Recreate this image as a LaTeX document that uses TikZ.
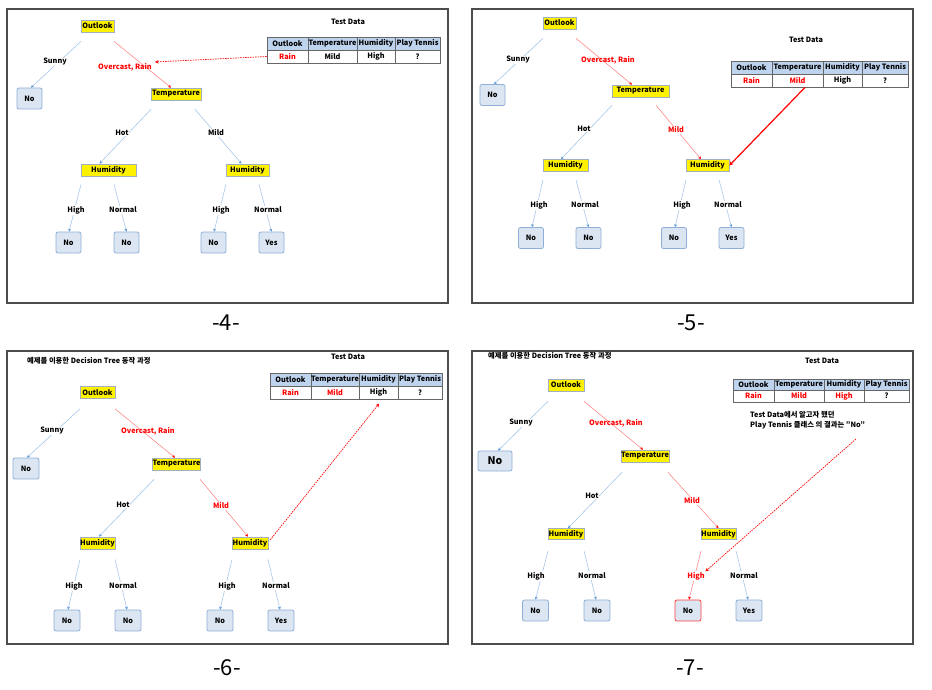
\documentclass[tikz,border=0pt]{standalone}
\usepackage{fontspec}
\setmainfont{Noto Sans CJK KR}
\usetikzlibrary{arrows.meta}
\definecolor{leaffill}{HTML}{DCE6F2}
\definecolor{leafdraw}{HTML}{8FAFD8}
\definecolor{edgeblue}{HTML}{A9C7EA}
\definecolor{tipblue}{HTML}{5B9BD5}
\definecolor{edgered}{HTML}{FF8C8C}
\definecolor{headfill}{HTML}{BDD3EE}
\definecolor{tabline}{HTML}{666666}
\definecolor{ybord}{HTML}{A0AEC0}
\begin{document}
\begin{tikzpicture}[x=1pt,y=-1pt,
  lab/.style={font=\fontsize{7.3}{9}\selectfont\bfseries},
  ynode/.style={lab,fill=yellow,draw=ybord,line width=0.7pt,inner sep=0pt,minimum height=12pt},
  leaf/.style={lab,fill=leaffill,draw=leafdraw,line width=0.8pt,rounded corners=2pt,inner sep=0pt,minimum width=25pt,minimum height=21pt},
  redleaf/.style={leaf,draw=red!75},
  lbl/.style={lab,fill=white,inner sep=0.6pt},
  rlbl/.style={lbl,text=red},
  olbl/.style={lab,inner sep=0.6pt,text=red},
  edge/.style={draw=edgeblue,line width=0.6pt,-{Stealth[length=3pt,width=3pt,color=tipblue]}},
  redge/.style={draw=edgered,line width=0.6pt,-{Stealth[length=3pt,width=3pt,color=red]}},
  rdash/.style={draw=red,line width=0.7pt,dash pattern=on 1.5pt off 1pt,-{Stealth[length=3.5pt,width=3.5pt]}},
  rsolid/.style={draw=red,line width=1.2pt,-{Stealth[length=4pt,width=4pt]}},
  hcell/.style={lab,fill=headfill,draw=tabline,line width=0.8pt,inner sep=0pt},
  dcell/.style={lab,fill=white,draw=tabline,line width=0.8pt,inner sep=0pt},
  panel/.style={draw=black!70,line width=1.1pt},
  tdl/.style={lab},
  plabel/.style={font=\fontsize{22}{24}\selectfont},
  title/.style={font=\fontsize{7.3}{8.5}\selectfont\bfseries,inner sep=0pt}
]
\useasboundingbox (0,0) rectangle (932,690);
\fill[white] (0,0) rectangle (932,690);

% ================= panel 4 =================
\draw[panel] (7,9) rectangle (448,303);
\node[plabel] (a-num) at (226,323) {-4-};
\node[tdl] (a-td) at (348,22) {Test Data};
\node[hcell,minimum width=41pt,minimum height=13pt] (a-h1) at (287.5,43.5) {Outlook};
\node[hcell,minimum width=49pt,minimum height=13pt] (a-h2) at (332.5,43.5) {Temperature};
\node[hcell,minimum width=38pt,minimum height=13pt] (a-h3) at (376,43.5) {Humidity};
\node[hcell,minimum width=45pt,minimum height=13pt] (a-h4) at (417.5,43.5) {Play Tennis};
\node[dcell,minimum width=41pt,minimum height=13pt,text=red] (a-d1) at (287.5,56.5) {Rain};
\node[dcell,minimum width=49pt,minimum height=13pt] (a-d2) at (332.5,56.5) {Mild};
\node[dcell,minimum width=38pt,minimum height=13pt] (a-d3) at (376,56.5) {High};
\node[dcell,minimum width=45pt,minimum height=13pt] (a-d4) at (417.5,56.5) {?};

\node[ynode,minimum width=33pt] (a-out) at (97.5,26) {Outlook};
\node[leaf] (a-no) at (29.5,98.5) {No};
\node[ynode,minimum width=50pt] (a-tmp) at (176,94) {Temperature};
\node[ynode,minimum width=55pt] (a-hl) at (108.5,170) {Humidity};
\node[ynode,minimum width=43pt] (a-hr) at (247.5,170) {Humidity};
\node[leaf] (a-n1) at (68.5,242.5) {No};
\node[leaf] (a-n2) at (126.5,242.5) {No};
\node[leaf] (a-n3) at (213.5,242.5) {No};
\node[leaf] (a-y) at (271.5,242.5) {Yes};

\draw[edge] ([xshift=-16.5pt,yshift=-9pt]a-out.south) -- ([xshift=1.5pt]a-no.north);
\draw[redge] ([xshift=16.5pt,yshift=-9pt]a-out.south) -- ([xshift=-5pt]a-tmp.north);
\draw[edge] ([xshift=-25pt,yshift=-9pt]a-tmp.south) -- ([xshift=-9pt]a-hl.north);
\draw[edge] ([xshift=19pt,yshift=-9pt]a-tmp.south) -- ([xshift=-6pt]a-hr.north);
\draw[edge] ([xshift=-27.5pt,yshift=-8pt]a-hl.south) -- ([xshift=0.5pt]a-n1.north);
\draw[edge] ([xshift=5.5pt,yshift=-8pt]a-hl.south) -- (a-n2.north);
\draw[edge] ([xshift=-21.5pt,yshift=-8pt]a-hr.south) -- ([xshift=0.5pt]a-n3.north);
\draw[edge] ([xshift=11.5pt,yshift=-8pt]a-hr.south) -- (a-y.north);

\node[lbl] (a-l1) at (55,62) {Sunny};
\node[olbl] (a-l2) at (125,67) {Overcast, Rain};
\node[lbl] (a-l3) at (122,133) {Hot};
\node[lbl] (a-l4) at (216,133) {Mild};
\node[lbl] (a-l5) at (76,210) {High};
\node[lbl] (a-l6) at (123,210) {Normal};
\node[lbl] (a-l7) at (221,210) {High};
\node[lbl] (a-l8) at (268,210) {Normal};

\coordinate (a-tip) at (155,62);
\draw[rdash] (a-d1.west) -- (a-tip);

% ================= panel 5 =================
\draw[panel] (472,9) rectangle (913,303);
\node[plabel] (b-num) at (691,323) {-5-};
\node[tdl] (b-td) at (806,40) {Test Data};
\node[hcell,minimum width=41pt,minimum height=13pt] (b-h1) at (751.5,67.5) {Outlook};
\node[hcell,minimum width=51pt,minimum height=13pt] (b-h2) at (797.5,67.5) {Temperature};
\node[hcell,minimum width=39pt,minimum height=13pt] (b-h3) at (842.5,67.5) {Humidity};
\node[hcell,minimum width=46pt,minimum height=13pt] (b-h4) at (885,67.5) {Play Tennis};
\node[dcell,minimum width=41pt,minimum height=13pt,text=red] (b-d1) at (751.5,80.5) {Rain};
\node[dcell,minimum width=51pt,minimum height=13pt,text=red] (b-d2) at (797.5,80.5) {Mild};
\node[dcell,minimum width=39pt,minimum height=13pt] (b-d3) at (842.5,80.5) {High};
\node[dcell,minimum width=46pt,minimum height=13pt] (b-d4) at (885,80.5) {?};

\node[ynode,minimum width=33pt] (b-out) at (559.5,23) {Outlook};
\node[leaf] (b-no) at (492.5,95) {No};
\node[ynode,minimum width=57pt] (b-tmp) at (640.5,91) {Temperature};
\node[ynode,minimum width=45pt] (b-hl) at (565.5,165.5) {Humidity};
\node[ynode,minimum width=43pt] (b-hr) at (707.5,165.5) {Humidity};
\node[leaf] (b-n1) at (531,238) {No};
\node[leaf] (b-n2) at (588.5,238) {No};
\node[leaf] (b-n3) at (674,238) {No};
\node[leaf] (b-y) at (731.5,238) {Yes};

\draw[edge] ([xshift=-16.5pt,yshift=-9pt]b-out.south) -- ([xshift=1.5pt]b-no.north);
\draw[redge] ([xshift=16.5pt,yshift=-9pt]b-out.south) -- ([xshift=-8.5pt]b-tmp.north);
\draw[edge] ([xshift=-28.5pt,yshift=-8pt]b-tmp.south) -- ([xshift=-4.5pt]b-hl.north);
\draw[redge] ([xshift=15.5pt,yshift=-8pt]b-tmp.south) -- ([xshift=-6.5pt]b-hr.north);
\draw[edge] ([xshift=-22.5pt,yshift=-8pt]b-hl.south) -- ([xshift=1pt]b-n1.north);
\draw[edge] ([xshift=10.5pt,yshift=-8pt]b-hl.south) -- (b-n2.north);
\draw[edge] ([xshift=-21.5pt,yshift=-8pt]b-hr.south) -- ([xshift=1pt]b-n3.north);
\draw[edge] ([xshift=11.5pt,yshift=-8pt]b-hr.south) -- (b-y.north);

\node[lbl] (b-l1) at (518,60) {Sunny};
\node[olbl] (b-l2) at (608,60) {Overcast, Rain};
\node[lbl] (b-l3) at (584,129) {Hot};
\node[rlbl] (b-l4) at (676,130) {Mild};
\node[lbl] (b-l5) at (539,205) {High};
\node[lbl] (b-l6) at (585,205) {Normal};
\node[lbl] (b-l7) at (682,205) {High};
\node[lbl] (b-l8) at (728,205) {Normal};

\draw[rsolid] ([xshift=7.5pt]b-d2.south) -- (b-hr.east);

% ================= panel 6 =================
\draw[panel] (7,351) rectangle (448,644);
\node[plabel] (c-num) at (227,668) {-6-};
\node[title,anchor=west] (c-title) at (27,361) {예제를 이용한 Decision Tree 동작 과정};
\node[tdl] (c-td) at (348,357) {Test Data};
\node[hcell,minimum width=41pt,minimum height=13pt] (c-h1) at (290.5,379.5) {Outlook};
\node[hcell,minimum width=48pt,minimum height=13pt] (c-h2) at (335,379.5) {Temperature};
\node[hcell,minimum width=39pt,minimum height=13pt] (c-h3) at (378.5,379.5) {Humidity};
\node[hcell,minimum width=44pt,minimum height=13pt] (c-h4) at (420,379.5) {Play Tennis};
\node[dcell,minimum width=41pt,minimum height=13pt,text=red] (c-d1) at (290.5,392.5) {Rain};
\node[dcell,minimum width=48pt,minimum height=13pt,text=red] (c-d2) at (335,392.5) {Mild};
\node[dcell,minimum width=39pt,minimum height=13pt] (c-d3) at (378.5,392.5) {High};
\node[dcell,minimum width=44pt,minimum height=13pt] (c-d4) at (420,392.5) {?};

\node[ynode,minimum width=35pt] (c-out) at (97.5,392.5) {Outlook};
\node[leaf,minimum width=26pt] (c-no) at (26,468.5) {No};
\node[ynode,minimum width=47pt] (c-tmp) at (176.5,464) {Temperature};
\node[ynode,minimum width=35pt] (c-hl) at (97.5,543) {Humidity};
\node[ynode,minimum width=36pt] (c-hr) at (250,543) {Humidity};
\node[leaf,minimum width=26pt] (c-n1) at (67,620.5) {No};
\node[leaf,minimum width=26pt] (c-n2) at (128,620.5) {No};
\node[leaf,minimum width=26pt] (c-n3) at (220,620.5) {No};
\node[leaf,minimum width=26pt] (c-y) at (281,620.5) {Yes};

\draw[edge] ([xshift=-17.5pt,yshift=-10pt]c-out.south) -- ([xshift=1pt]c-no.north);
\draw[redge] ([xshift=17.5pt,yshift=-10pt]c-out.south) -- ([xshift=-1.5pt]c-tmp.north);
\draw[edge] ([xshift=-22.5pt,yshift=-9pt]c-tmp.south) -- ([xshift=1.5pt]c-hl.north);
\draw[redge] ([xshift=23.5pt,yshift=-9pt]c-tmp.south) -- ([xshift=-2pt]c-hr.north);
\draw[edge] ([xshift=-17.5pt,yshift=-10pt]c-hl.south) -- ([xshift=1pt]c-n1.north);
\draw[edge] ([xshift=17.5pt,yshift=-10pt]c-hl.south) -- ([xshift=-1pt]c-n2.north);
\draw[edge] ([xshift=-18pt,yshift=-10pt]c-hr.south) -- (c-n3.north);
\draw[edge] ([xshift=18pt,yshift=-10pt]c-hr.south) -- ([xshift=-1pt]c-y.north);

\node[lbl] (c-l1) at (52,431) {Sunny};
\node[olbl] (c-l2) at (148,431) {Overcast, Rain};
\node[lbl] (c-l3) at (123,505) {Hot};
\node[rlbl] (c-l4) at (221,506) {Mild};
\node[lbl] (c-l5) at (74,586) {High};
\node[lbl] (c-l6) at (123,586) {Normal};
\node[lbl] (c-l7) at (227,586) {High};
\node[lbl] (c-l8) at (276,586) {Normal};

\draw[rdash,shorten >=-1pt] ([xshift=2pt,yshift=-3pt]c-hr.north east) -- ([yshift=-5pt]c-d3.south);

% ================= panel 7 =================
\draw[panel] (472,351) rectangle (913,644);
\node[plabel] (d-num) at (690,668) {-7-};
\node[title,anchor=west] (d-title) at (488,355.5) {예제를 이용한 Decision Tree 동작 과정};
\node[tdl] (d-td) at (822,361) {Test Data};
\node[hcell,minimum width=41pt,minimum height=11pt] (d-h1) at (753.5,384.5) {Outlook};
\node[hcell,minimum width=50pt,minimum height=11pt] (d-h2) at (799,384.5) {Temperature};
\node[hcell,minimum width=40pt,minimum height=11pt] (d-h3) at (844,384.5) {Humidity};
\node[hcell,minimum width=45pt,minimum height=11pt] (d-h4) at (886.5,384.5) {Play Tennis};
\node[dcell,minimum width=41pt,minimum height=12pt,text=red] (d-d1) at (753.5,396) {Rain};
\node[dcell,minimum width=50pt,minimum height=12pt,text=red] (d-d2) at (799,396) {Mild};
\node[dcell,minimum width=40pt,minimum height=12pt,text=red] (d-d3) at (844,396) {High};
\node[dcell,minimum width=45pt,minimum height=12pt] (d-d4) at (886.5,396) {?};
\node[title,anchor=west] (d-note1) at (750,415) {Test Data에서 알고자 했던};
\node[title,anchor=west] (d-note2) at (750,425) {Play Tennis 클래스 의 결과는 "No"};

\node[ynode,minimum width=36pt] (d-out) at (566,385) {Outlook};
\node[leaf,minimum width=34pt,minimum height=20pt,font=\fontsize{10.5}{12}\selectfont\bfseries] (d-no) at (495,461) {No};
\node[ynode,minimum width=46pt] (d-tmp) at (645,456) {Temperature};
\node[ynode,minimum width=36pt,minimum height=11pt] (d-hl) at (566,534) {Humidity};
\node[ynode,minimum width=35pt,minimum height=11pt] (d-hr) at (718.5,534) {Humidity};
\node[leaf,minimum width=26pt] (d-n1) at (535.5,610.5) {No};
\node[leaf,minimum width=26pt] (d-n2) at (597,610.5) {No};
\node[redleaf,minimum width=26pt] (d-n3) at (688,610.5) {No};
\node[leaf,minimum width=26pt] (d-y) at (749,610.5) {Yes};

\draw[edge] ([xshift=-18pt,yshift=-10pt]d-out.south) -- ([xshift=3pt]d-no.north);
\draw[redge] ([xshift=18pt,yshift=-10pt]d-out.south) -- ([xshift=-2pt]d-tmp.north);
\draw[edge] ([xshift=-23pt,yshift=-10pt]d-tmp.south) -- ([xshift=2pt]d-hl.north);
\draw[redge] ([xshift=23pt,yshift=-10pt]d-tmp.south) -- (d-hr.north);
\draw[edge] ([xshift=-18pt,yshift=-11pt]d-hl.south) -- (d-n1.north);
\draw[edge] ([xshift=18pt,yshift=-11pt]d-hl.south) -- ([xshift=-1pt]d-n2.north);
\draw[redge] ([xshift=-17.5pt,yshift=-11pt]d-hr.south) -- ([xshift=1pt]d-n3.north);
\draw[edge] ([xshift=17.5pt,yshift=-11pt]d-hr.south) -- ([xshift=-1pt]d-y.north);

\node[lbl] (d-l1) at (521,423) {Sunny};
\node[olbl] (d-l2) at (616,423) {Overcast, Rain};
\node[lbl] (d-l3) at (592,496) {Hot};
\node[rlbl] (d-l4) at (692,501) {Mild};
\node[lbl] (d-l5) at (536,576) {High};
\node[lbl] (d-l6) at (592,576) {Normal};
\node[rlbl] (d-l7) at (696,576) {High};
\node[lbl] (d-l8) at (744,576) {Normal};

\coordinate (d-src) at (856,439);
\draw[rdash] (d-src) -- (d-l7.north east);
\end{tikzpicture}
\end{document}
